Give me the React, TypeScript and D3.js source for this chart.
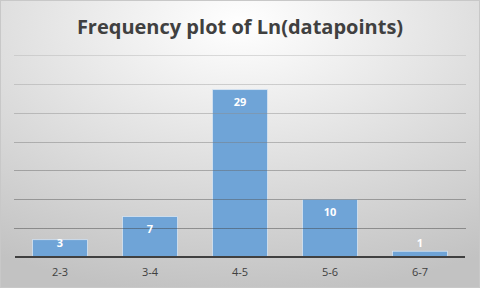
import React from "react";
import * as d3 from "d3";

const categories = ["2-3", "3-4", "4-5", "5-6", "6-7"];
const counts = [3, 7, 29, 10, 1];
const yTicks = [0, 5, 10, 15, 20, 25, 30, 35];
const title = "Frequency plot of Ln(datapoints)";

const W = 480;
const H = 288;
const plot = { left: 15, right: 465, top: 55, bottom: 257 };

export default function App() {
  const x = d3
    .scaleBand<string>()
    .domain(categories)
    .range([plot.left, plot.right])
    .paddingInner(0.39)
    .paddingOuter(0.195);
  const y = d3.scaleLinear().domain([0, 35]).range([plot.bottom, plot.top]);

  return (
    <svg
      width={W}
      height={H}
      style={{ position: "absolute", left: 0, top: 0, display: "block" }}
      fontFamily="'Open Sans', Calibri, sans-serif"
    >
      <defs>
        <radialGradient id="bg" cx="50%" cy="8%" r="95%" fx="50%" fy="8%">
          <stop offset="0%" stopColor="#ffffff" />
          <stop offset="100%" stopColor="#c2c2c2" />
        </radialGradient>
        <linearGradient
          id="grid"
          gradientUnits="userSpaceOnUse"
          x1="0"
          y1={plot.top}
          x2="0"
          y2={plot.bottom}
        >
          <stop offset="0%" stopColor="#b4b4b4" />
          <stop offset="100%" stopColor="#2a2a2a" />
        </linearGradient>
      </defs>
      <rect x={0} y={0} width={W} height={H} fill="url(#bg)" />
      <rect x={0.5} y={0.5} width={W - 1} height={H - 1} fill="none" stroke="#c8c8c8" />

      <text
        x={W / 2}
        y={34}
        textAnchor="middle"
        fontSize={20}
        fontWeight="bold"
        fill="#404040"
        fontFamily="'Open Sans', sans-serif"
      >
        {title}
      </text>

      {categories.map((c, i) => (
        <rect
          key={c}
          x={x(c)!}
          y={y(counts[i])}
          width={x.bandwidth()}
          height={y(0) - y(counts[i])}
          fill="#6fa4d7"
          stroke="#d6e4f2"
          strokeWidth={0.8}
        />
      ))}

      {yTicks
        .filter((t) => t > 0)
        .map((t) => (
          <line
            key={t}
            x1={plot.left - 1}
            x2={plot.right + 1}
            y1={Math.round(y(t)) + 0.5}
            y2={Math.round(y(t)) + 0.5}
            stroke="url(#grid)"
            strokeOpacity={0.45}
            strokeWidth={1}
          />
        ))}

      <line
        x1={plot.left}
        x2={plot.right}
        y1={plot.bottom}
        y2={plot.bottom}
        stroke="#404040"
        strokeWidth={1.8}
      />

      {categories.map((c, i) => (
        <text
          key={c}
          x={x(c)! + x.bandwidth() / 2}
          y={Math.min(y(counts[i]) + 16.5, plot.bottom - 10)}
          textAnchor="middle"
          fontSize={11}
          fontWeight="bold"
          fill="#ffffff"
        >
          {counts[i]}
        </text>
      ))}

      {categories.map((c) => (
        <text
          key={c}
          x={x(c)! + x.bandwidth() / 2}
          y={275.5}
          textAnchor="middle"
          fontSize={11}
          fill="#404040"
        >
          {c}
        </text>
      ))}
    </svg>
  );
}
